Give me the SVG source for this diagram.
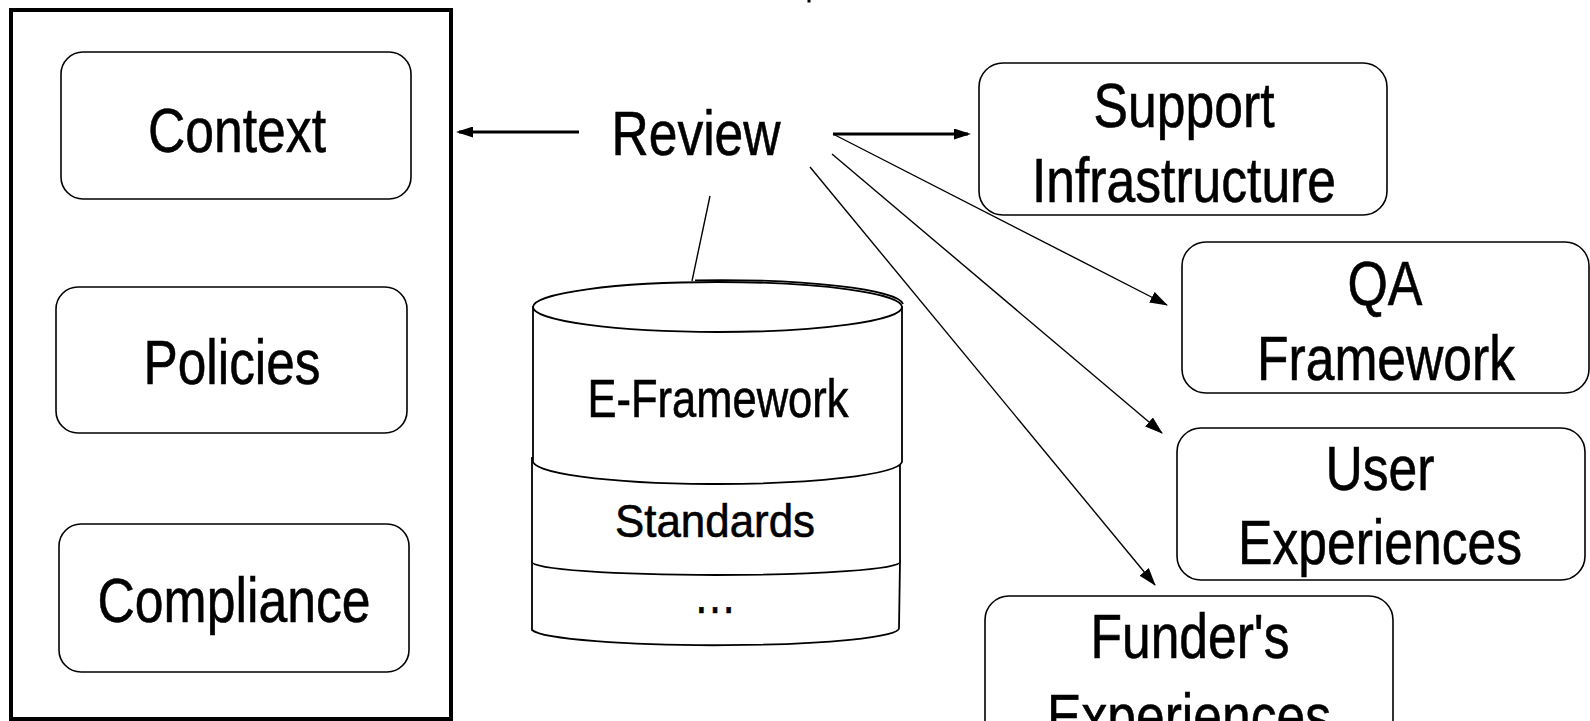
<svg xmlns="http://www.w3.org/2000/svg" width="1590" height="721" viewBox="0 0 1590 721">
<defs>
<style>
.box{fill:#fff;stroke:#000;stroke-width:1.6}
.frame{fill:none;stroke:#000;stroke-width:4}
.cyl{fill:#fff;stroke:#000;stroke-width:1.8}
.t{font-family:"Liberation Sans Narrow","Liberation Sans",Arial,sans-serif;fill:#000;stroke:#000;stroke-width:0.6;text-anchor:middle}
.big{font-size:63px}
.mid{font-size:53px}
.thick{stroke:#000;stroke-width:2.8;fill:none}
.thin{stroke:#000;stroke-width:1.4;fill:none}
</style>
<marker id="ahThick" markerUnits="userSpaceOnUse" markerWidth="17" markerHeight="11" refX="14" refY="5.5" orient="auto">
<path d="M0,0 L17,5.5 L0,11 z" fill="#000"/>
</marker>
<marker id="ahThin" markerUnits="userSpaceOnUse" markerWidth="18" markerHeight="12" refX="17" refY="6" orient="auto">
<path d="M0,0 L18,6 L0,12 z" fill="#000"/>
</marker>
</defs>
<rect width="1590" height="721" fill="#fff"/>
<rect x="807.5" y="0" width="3" height="2.5" fill="#000"/>

<g id="container">
<rect class="frame" x="11" y="10" width="440" height="709"/>
</g>

<g id="context">
<rect class="box" x="61" y="52" width="350" height="147" rx="22"/>
<text class="t big" x="237" y="152" textLength="178" lengthAdjust="spacingAndGlyphs">Context</text>
</g>
<g id="policies">
<rect class="box" x="56" y="287" width="351" height="146" rx="22"/>
<text class="t big" x="232" y="384" textLength="177" lengthAdjust="spacingAndGlyphs">Policies</text>
</g>
<g id="compliance">
<rect class="box" x="59" y="524" width="350" height="148" rx="22"/>
<text class="t big" x="234" y="622" textLength="273" lengthAdjust="spacingAndGlyphs">Compliance</text>
</g>

<g id="review">
<text class="t big" x="696" y="155" textLength="169" lengthAdjust="spacingAndGlyphs">Review</text>
</g>

<g id="database">
<path class="cyl" d="M532,562 L532,630 A184 17 0 0 0 899,628 L900,562 Z"/>
<path class="cyl" d="M532,458 L532,562 A184 13 0 0 0 900,562 L900,460 Z"/>
<path class="cyl" d="M533,307 L533,460 A184.5 23 0 0 0 902,462 L902,307 Z"/>
<path class="cyl" d="M695,280.3 A184 25 0 0 1 903,304"/>
<ellipse class="cyl" cx="717.5" cy="307" rx="184.5" ry="25"/>
<text class="t mid" x="718" y="417" textLength="261" lengthAdjust="spacingAndGlyphs">E-Framework</text>
<text class="t" style="font-size:46px" x="715" y="537" textLength="200" lengthAdjust="spacingAndGlyphs">Standards</text>
<text class="t mid" x="715" y="613" textLength="43" lengthAdjust="spacingAndGlyphs">…</text>
</g>

<g id="support">
<rect class="box" x="979" y="63" width="408" height="152" rx="24"/>
<text class="t big" x="1184" y="127" textLength="181" lengthAdjust="spacingAndGlyphs">Support</text>
<text class="t big" x="1184" y="202" textLength="304" lengthAdjust="spacingAndGlyphs">Infrastructure</text>
</g>
<g id="qa">
<rect class="box" x="1182" y="242" width="407" height="151" rx="24"/>
<text class="t big" x="1385" y="305" textLength="75" lengthAdjust="spacingAndGlyphs">QA</text>
<text class="t big" x="1386" y="380" textLength="258" lengthAdjust="spacingAndGlyphs">Framework</text>
</g>
<g id="user">
<rect class="box" x="1177" y="428" width="408" height="152" rx="24"/>
<text class="t big" x="1380" y="490" textLength="109" lengthAdjust="spacingAndGlyphs">User</text>
<text class="t big" x="1380" y="564" textLength="284" lengthAdjust="spacingAndGlyphs">Experiences</text>
</g>
<g id="funders">
<rect class="box" x="985" y="596" width="408" height="160" rx="24"/>
<text class="t big" x="1190" y="658" textLength="199" lengthAdjust="spacingAndGlyphs">Funder's</text>
<text class="t big" x="1189" y="738" textLength="284" lengthAdjust="spacingAndGlyphs">Experiences</text>
</g>

<g id="connectors">
<line class="thick" x1="579" y1="132" x2="459" y2="132" marker-end="url(#ahThick)"/>
<line class="thick" x1="833" y1="134" x2="968" y2="134" marker-end="url(#ahThick)"/>
<line class="thin" x1="833" y1="134" x2="1167" y2="305" marker-end="url(#ahThin)"/>
<line class="thin" x1="832" y1="154" x2="1162" y2="433" marker-end="url(#ahThin)"/>
<line class="thin" x1="810" y1="167" x2="1155" y2="585" marker-end="url(#ahThin)"/>
<line class="thin" x1="710" y1="196" x2="692" y2="281"/>
</g>
</svg>
